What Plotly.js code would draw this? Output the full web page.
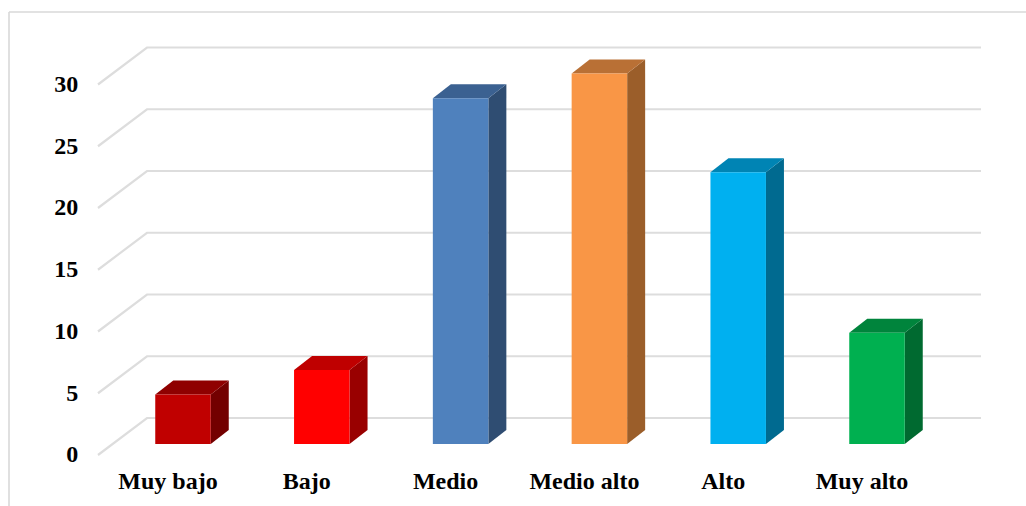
<!DOCTYPE html>
<html>
<head>
<meta charset="utf-8">
<script src="https://cdn.plot.ly/plotly-3.0.1.min.js"></script>
<style>html,body{margin:0;padding:0;background:#fff;overflow:hidden}</style>
</head>
<body>
<div id="chart" style="width:1026px;height:506px"></div>
<script>
// Data
const categories = ["Muy bajo", "Bajo", "Medio", "Medio alto", "Alto", "Muy alto"];
const values = [4, 6, 28, 30, 22, 9];
const yTicks = [0, 5, 10, 15, 20, 25, 30];
// Colours
const frontColors = ["#C00000", "#FF0000", "#4F81BD", "#F99646", "#00B0F0", "#00B050"];
const topColors = ["#8F0000", "#BF0000", "#3B6191", "#B97035", "#0084B4", "#00843C"];
const sideColors = ["#730000", "#990000", "#2F4D72", "#9B5E2A", "#006A90", "#006A30"];

// Scale of the oblique projection
const W = 1026, H = 506;
const m = {l: 90, r: 36, t: 30, b: 50};
const pxPerX = 138.8, pxPerY = 12.35;
const x0px = 183, y0px = 444;
const xRange = [(m.l - x0px) / pxPerX, (W - m.r - x0px) / pxPerX];
const yRange = [(y0px - (H - m.b)) / pxPerY, (y0px - m.t) / pxPerY];
const barWidth = 55.5 / pxPerX;
const barDx = 18 / pxPerX, barDy = 14 / pxPerY;
const wallDx = 49 / pxPerX, wallDy = 37 / pxPerY;
const axisX = (98 - x0px) / pxPerX, axisY = -11 / pxPerY;
const tickLabelY = -10 / pxPerY;
const wallEnd = (981 - x0px) / pxPerX;
const labelShift = -15 / pxPerX;

const traces = [];
// Gridlines: floor-to-wall diagonal plus back-wall line for every tick
const gx = [], gy = [];
yTicks.forEach(v => {
  gx.push(axisX, axisX + wallDx, wallEnd, null);
  gy.push(v + axisY, v + axisY + wallDy, v + axisY + wallDy, null);
});
traces.push({type: "scatter", mode: "lines", x: gx, y: gy, zorder: 0, cliponaxis: false,
  line: {color: "#DDDDDD", width: 2.2, simplify: false}, hoverinfo: "skip", showlegend: false});

// Side and top faces
categories.forEach((c, i) => {
  const l = i - barWidth / 2, r = i + barWidth / 2, v = values[i];
  traces.push({type: "scatter", mode: "lines", fill: "toself", fillcolor: sideColors[i], zorder: 1,
    x: [r, r + barDx, r + barDx, r, r], y: [0, barDy, v + barDy, v, 0],
    line: {width: 0, color: sideColors[i]}, hoverinfo: "skip", showlegend: false});
  traces.push({type: "scatter", mode: "lines", fill: "toself", fillcolor: topColors[i], zorder: 1,
    x: [l, l + barDx, r + barDx, r, l], y: [v, v + barDy, v + barDy, v, v],
    line: {width: 0, color: topColors[i]}, hoverinfo: "skip", showlegend: false});
});

// Front faces
traces.push({type: "bar", x: categories.map((c, i) => i), y: values, width: barWidth, zorder: 2,
  marker: {color: frontColors, line: {width: 0}}, showlegend: false});

const font = {family: "'Liberation Serif', 'Times New Roman', serif", size: 24, color: "#000", weight: "bold"};
const layout = {
  width: W, height: H, margin: m, showlegend: false, paper_bgcolor: "#fff", plot_bgcolor: "rgba(0,0,0,0)",
  xaxis: {range: xRange, showgrid: false, zeroline: false, showline: false, tickmode: "array",
    tickvals: categories.map((c, i) => i + labelShift), ticktext: categories,
    ticklen: 3, tickcolor: "rgba(0,0,0,0)", tickfont: font, tickangle: 0, automargin: false},
  yaxis: {range: yRange, showgrid: false, zeroline: false, showline: false, tickmode: "array",
    tickvals: yTicks.map(v => v + tickLabelY), ticktext: yTicks.map(String),
    ticklen: 6, tickcolor: "rgba(0,0,0,0)", tickfont: font, automargin: false},
  shapes: [
    {type: "line", xref: "paper", yref: "paper", layer: "below", line: {color: "#D9D9D9", width: 1.6},
      x0: (9 - m.l) / (W - m.l - m.r), x1: (9 - m.l) / (W - m.l - m.r),
      y0: -m.b / (H - m.t - m.b), y1: (H - m.b - 12) / (H - m.t - m.b)},
    {type: "line", xref: "paper", yref: "paper", layer: "below", line: {color: "#D9D9D9", width: 1.6},
      x0: (9 - m.l) / (W - m.l - m.r), x1: (W - m.l) / (W - m.l - m.r),
      y0: (H - m.b - 12) / (H - m.t - m.b), y1: (H - m.b - 12) / (H - m.t - m.b)}
  ]
};
Plotly.newPlot("chart", traces, layout, {displayModeBar: false, staticPlot: true});
</script>
</body>
</html>
